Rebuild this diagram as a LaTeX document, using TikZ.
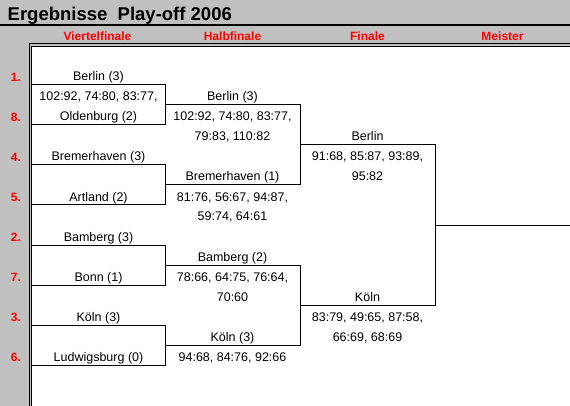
\documentclass[tikz,border=0pt]{standalone}
\usepackage{fontspec}
\setmainfont{Liberation Sans}
\definecolor{bggray}{HTML}{C0C0C0}
\definecolor{hdrred}{HTML}{FF0000}
\begin{document}
\begin{tikzpicture}[x=1pt,y=-1pt,
  txt/.style={font=\fontsize{12.5}{12.5}\selectfont, anchor=base, inner sep=0pt},
  hdr/.style={font=\fontsize{12}{12}\selectfont\bfseries, text=hdrred, anchor=base, inner sep=0pt},
  seed/.style={font=\fontsize{12}{12}\selectfont\bfseries, text=hdrred, anchor=base, inner sep=0pt},
  bracket/.style={draw=black, line width=1pt},
  frame/.style={draw=black, line width=1pt}]
\useasboundingbox (0,0) rectangle (570,406);
\fill[bggray] (0,0) rectangle (570,406);
\fill[white] (32,47) rectangle (570,406);
% title
\node[font=\fontsize{18.5}{18.5}\selectfont\bfseries, anchor=base west, inner sep=0pt] (title) at (7.5,20.5) {Ergebnisse\ \ Play-off 2006};
\coordinate (tl) at (0,25); \coordinate (tr) at (570,25);
\draw[line width=2pt] (tl) -- (tr);
% frame double lines
\coordinate (fo1) at (29.5,406); \coordinate (fo2) at (29.5,44); \coordinate (fo3) at (570,44);
\coordinate (fi1) at (31.5,406); \coordinate (fi2) at (31.5,46.5); \coordinate (fi3) at (570,46.5);
\draw[frame] (fo1) -- (fo2) -- (fo3);
\draw[frame] (fi1) -- (fi2) -- (fi3);
% headers
\node[hdr] (h1) at (97.5,41) {Viertelfinale};
\node[hdr] (h2) at (232.5,41) {Halbfinale};
\node[hdr] (h3) at (367.5,41) {Finale};
\node[hdr] (h4) at (502.5,41) {Meister};
% seeds
\node[seed] (s1) at (16,81.5) {1.};
\node[seed] (s8) at (16,121.5) {8.};
\node[seed] (s4) at (16,161.5) {4.};
\node[seed] (s5) at (16,201.5) {5.};
\node[seed] (s2) at (16,241.5) {2.};
\node[seed] (s7) at (16,281.5) {7.};
\node[seed] (s3) at (16,321.5) {3.};
\node[seed] (s6) at (16,361.5) {6.};
% quarterfinal brackets
\coordinate (q1a) at (32,85);  \coordinate (q1b) at (165,85);  \coordinate (q1c) at (165,125); \coordinate (q1d) at (32,125);
\coordinate (q2a) at (32,165); \coordinate (q2b) at (165,165); \coordinate (q2c) at (165,205); \coordinate (q2d) at (32,205);
\coordinate (q3a) at (32,245); \coordinate (q3b) at (165,245); \coordinate (q3c) at (165,285); \coordinate (q3d) at (32,285);
\coordinate (q4a) at (32,325); \coordinate (q4b) at (165,325); \coordinate (q4c) at (165,365); \coordinate (q4d) at (32,365);
\draw[bracket] (q1a) -- (q1b) -- (q1c) -- (q1d);
\draw[bracket] (q2a) -- (q2b) -- (q2c) -- (q2d);
\draw[bracket] (q3a) -- (q3b) -- (q3c) -- (q3d);
\draw[bracket] (q4a) -- (q4b) -- (q4c) -- (q4d);
% semifinal brackets
\coordinate (h1a) at (165,105); \coordinate (h1b) at (300,105); \coordinate (h1c) at (300,185); \coordinate (h1d) at (165,185);
\coordinate (h2a) at (165,265); \coordinate (h2b) at (300,265); \coordinate (h2c) at (300,345); \coordinate (h2d) at (165,345);
\draw[bracket] (h1a) -- (h1b) -- (h1c) -- (h1d);
\draw[bracket] (h2a) -- (h2b) -- (h2c) -- (h2d);
% final bracket
\coordinate (fa) at (300,145); \coordinate (fb) at (435,145); \coordinate (fc) at (435,305); \coordinate (fd) at (300,305);
\draw[bracket] (fa) -- (fb) -- (fc) -- (fd);
% champion line
\coordinate (ma) at (435,225); \coordinate (mb) at (570,225);
\draw[bracket] (ma) -- (mb);
% quarterfinal texts
\node[txt] (qt1) at (98.5,81) {Berlin (3)};
\node[txt] (qt1s) at (98.5,101) {102:92, 74:80, 83:77,};
\node[txt] (qt8) at (98.5,121) {Oldenburg (2)};
\node[txt] (qt4) at (98.5,161) {Bremerhaven (3)};
\node[txt] (qt5) at (98.5,201) {Artland (2)};
\node[txt] (qt2) at (98.5,241) {Bamberg (3)};
\node[txt] (qt7) at (98.5,281) {Bonn (1)};
\node[txt] (qt3) at (98.5,321) {Köln (3)};
\node[txt] (qt6) at (98.5,361) {Ludwigsburg (0)};
% semifinal texts
\node[txt] (ht1) at (232.5,101) {Berlin (3)};
\node[txt] (ht1s) at (232.5,121) {102:92, 74:80, 83:77,};
\node[txt] (ht1t) at (232.5,141) {79:83, 110:82};
\node[txt] (ht2) at (232.5,181) {Bremerhaven (1)};
\node[txt] (ht2s) at (232.5,201) {81:76, 56:67, 94:87,};
\node[txt] (ht2t) at (232.5,221) {59:74, 64:61};
\node[txt] (ht3) at (232.5,261) {Bamberg (2)};
\node[txt] (ht3s) at (232.5,281) {78:66, 64:75, 76:64,};
\node[txt] (ht3t) at (232.5,301) {70:60};
\node[txt] (ht4) at (232.5,341) {Köln (3)};
\node[txt] (ht4s) at (232.5,361) {94:68, 84:76, 92:66};
% final texts
\node[txt] (ft1) at (367.5,141) {Berlin};
\node[txt] (ft1s) at (367.5,161) {91:68, 85:87, 93:89,};
\node[txt] (ft1t) at (367.5,181) {95:82};
\node[txt] (ft2) at (367.5,301) {Köln};
\node[txt] (ft2s) at (367.5,321) {83:79, 49:65, 87:58,};
\node[txt] (ft2t) at (367.5,341) {66:69, 68:69};
\end{tikzpicture}
\end{document}
